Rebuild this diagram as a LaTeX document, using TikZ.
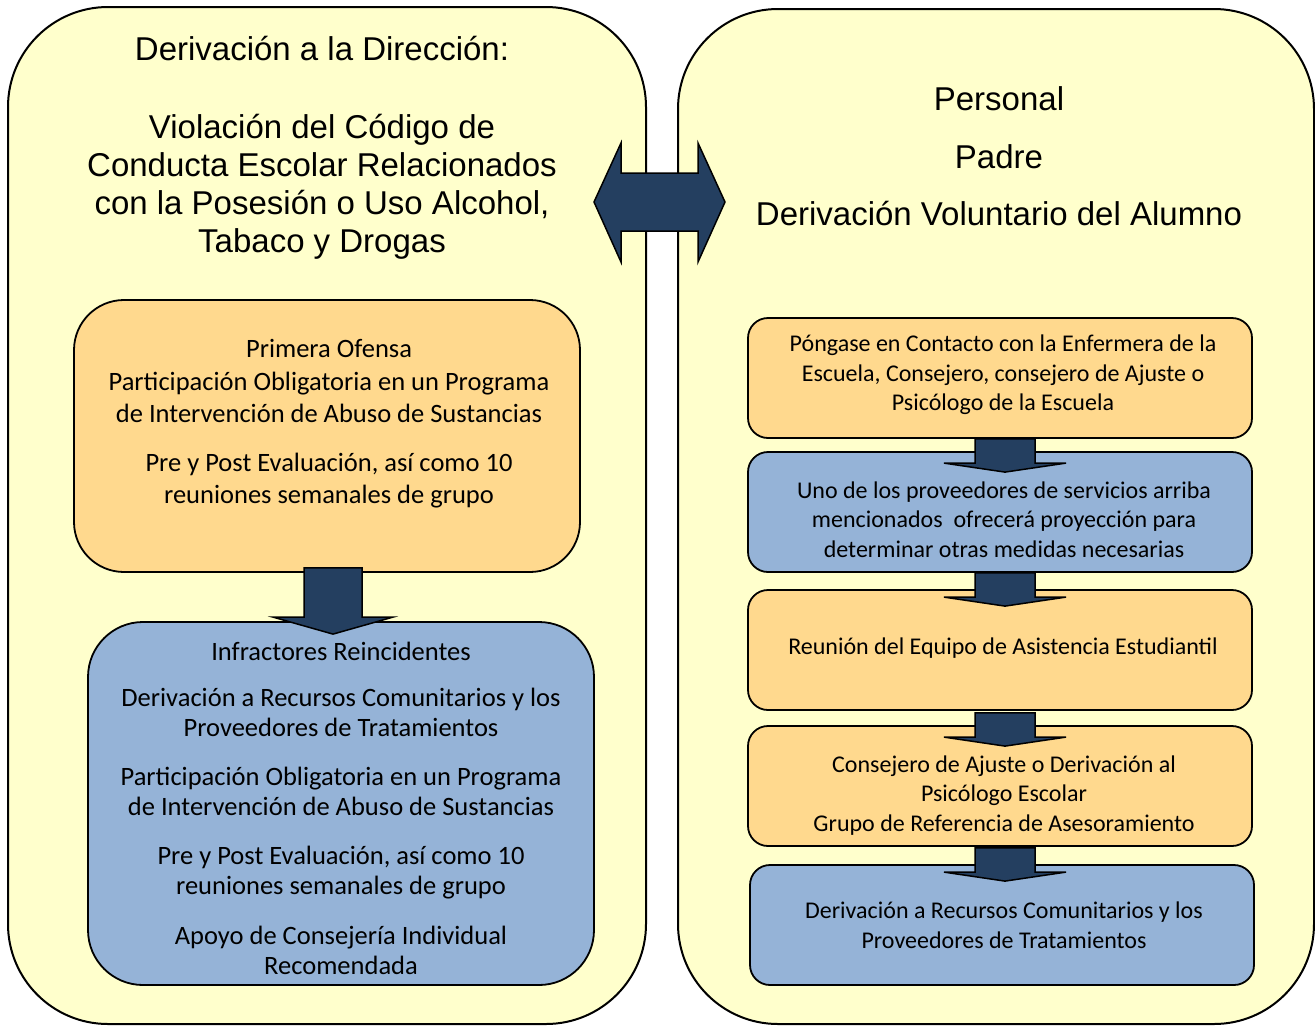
\documentclass[tikz,border=0pt]{standalone}
\usepackage{fontspec}
\setmainfont{Carlito}
\newfontfamily\titlefont{Liberation Sans}
\usetikzlibrary{calc}
\definecolor{outery}{HTML}{FFFFCC}
\definecolor{boxo}{HTML}{FFD98E}
\definecolor{boxb}{HTML}{95B3D7}
\definecolor{arrowc}{HTML}{243F60}
\tikzset{
  outerbox/.style={draw=black, line width=2pt, fill=outery, rounded corners=100pt, inner sep=0pt},
  bigbox/.style={draw=black, line width=1.8pt, rounded corners=50pt, inner sep=0pt},
  smallbox/.style={draw=black, line width=1.8pt, rounded corners=20pt, inner sep=0pt,
    minimum width=504pt, minimum height=120pt},
  titletext/.style={align=center, inner sep=0pt, font=\titlefont\fontsize{33}{38}\selectfont},
  lefttext/.style={align=center, inner sep=0pt, font=\fontsize{26.5}{32.5}\selectfont},
  bluetext/.style={align=center, inner sep=0pt, font=\fontsize{26.5}{30}\selectfont},
  righttext/.style={align=center, inner sep=0pt, font=\fontsize{24}{29.5}\selectfont},
  blockarrow/.style={fill=arrowc, draw=black, line width=1.5pt, line join=miter},
}
\newcommand\vblock[5]{%
  \filldraw[blockarrow] let \p1=(#1), \p2=(#2) in
   (\x2-#3pt,\y1) -- (\x2+#3pt,\y1) -- (\x2+#3pt,\y2+#5pt) -- (\x2+#4pt,\y2+#5pt)
   -- (\x2,\y2) -- (\x2-#4pt,\y2+#5pt) -- (\x2-#3pt,\y2+#5pt) -- cycle;}
\begin{document}
\begin{tikzpicture}[x=1pt,y=-1pt]
\useasboundingbox (0,0) rectangle (1315,1026);
% outer panels
\node[outerbox, minimum width=638pt, minimum height=1017pt] (L) at (327,515.5) {};
\node[outerbox, minimum width=636pt, minimum height=1015pt] (R) at (996,516.5) {};
% titles
\node[titletext] (Lt) at (322,148) {Derivación a la Dirección:\\[40pt]Violación del Código de\\Conducta Escolar Relacionados\\con la Posesión o Uso Alcohol,\\Tabaco y Drogas};
\node[titletext] (Rt) at (999,156.5) {Personal\\[19.5pt]Padre\\[19.5pt]Derivación Voluntario del Alumno};
% left inner boxes
\node[bigbox, fill=boxo, minimum width=506pt, minimum height=272pt] (LO) at (327,436) {};
\node[bigbox, fill=boxb, rounded corners=55pt, minimum width=506pt, minimum height=363pt] (LB) at (341,803.5) {};
\node[lefttext] (LOt) at (329,424) {Primera Ofensa\\Participación Obligatoria en un Programa\\de Intervención de Abuso de Sustancias\\[16pt]Pre y Post Evaluación, así como 10\\reuniones semanales de grupo};
\node[bluetext] (LBt) at (341,808.5) {Infractores Reincidentes\\[16pt]Derivación a Recursos Comunitarios y los\\Proveedores de Tratamientos\\[19pt]Participación Obligatoria en un Programa\\de Intervención de Abuso de Sustancias\\[19pt]Pre y Post Evaluación, así como 10\\reuniones semanales de grupo\\[20pt]Apoyo de Consejería Individual\\Recomendada};
% right inner boxes
\node[smallbox, fill=boxo] (R1) at (1000,378) {};
\node[smallbox, fill=boxb] (R2) at (1000,512) {};
\node[smallbox, fill=boxo] (R3) at (1000,650) {};
\node[smallbox, fill=boxo] (R4) at (1000,786) {};
\node[smallbox, fill=boxb] (R5) at (1002,925) {};
\node[righttext] (R1t) at (1003,375) {Póngase en Contacto con la Enfermera de la\\Escuela, Consejero, consejero de Ajuste o\\Psicólogo de la Escuela};
\node[righttext] (R2t) at (1004,519.5) {Uno de los proveedores de servicios arriba\\mencionados\ \ ofrecerá proyección para\\determinar otras medidas necesarias};
\node[righttext] (R3t) at (1003,648) {Reunión del Equipo de Asistencia Estudiantil};
\node[righttext] (R4t) at (1004,795.5) {Consejero de Ajuste o Derivación al\\Psicólogo Escolar\\Grupo de Referencia de Asesoramiento};
\node[righttext] (R5t) at (1004,925) {Derivación a Recursos Comunitarios y los\\Proveedores de Tratamientos};
% arrows
\coordinate (a0s) at ($(LO.south)+(6,-5)$);
\coordinate (a0t) at ($(LB.north)+(-8,13)$);
\vblock{a0s}{a0t}{29}{60}{17}
\coordinate (a1s) at ($(R1.south)+(5,0)$);
\coordinate (a1t) at ($(R2.north)+(5,21)$);
\vblock{a1s}{a1t}{30}{61}{9}
\coordinate (a2s) at ($(R2.south)+(5,0)$);
\coordinate (a2t) at ($(R3.north)+(5,17)$);
\vblock{a2s}{a2t}{30}{61}{9}
\coordinate (a3s) at ($(R3.south)+(5,2)$);
\coordinate (a3t) at ($(R4.north)+(5,21)$);
\vblock{a3s}{a3t}{30}{61}{9}
\coordinate (a4s) at ($(R4.south)+(5,1)$);
\coordinate (a4t) at ($(R5.north)+(3,17)$);
\vblock{a4s}{a4t}{30}{61}{9}
% double arrow between panels
\coordinate (dl) at ($(L.east)+(-53,-313.5)$);
\coordinate (dr) at ($(R.west)+(48,-314.5)$);
\filldraw[blockarrow] let \p1=(dl), \p2=(dr) in
  (\p1) -- (\x1+27pt,\y1+59pt) -- (\x1+27pt,\y1+29pt) -- (\x2-27pt,\y1+29pt)
  -- (\x2-27pt,\y1+59pt) -- (\p2) -- (\x2-27pt,\y1-60pt) -- (\x2-27pt,\y1-29pt)
  -- (\x1+27pt,\y1-29pt) -- (\x1+27pt,\y1-60pt) -- cycle;
\end{tikzpicture}
\end{document}
